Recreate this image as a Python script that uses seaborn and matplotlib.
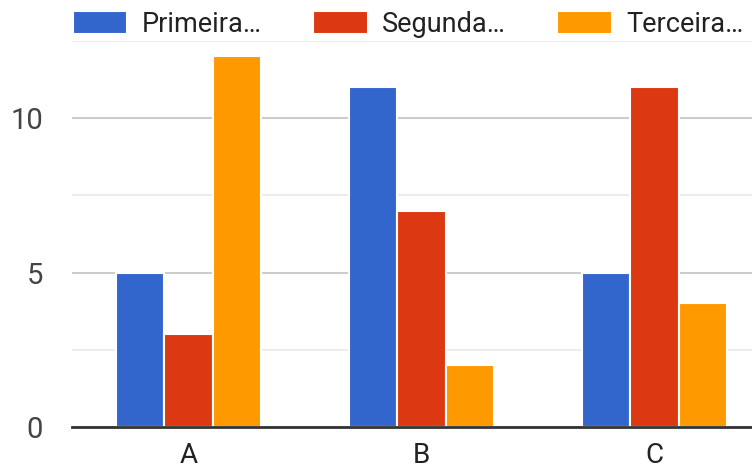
import matplotlib
matplotlib.use("Agg")
import matplotlib.pyplot as plt
from matplotlib.ticker import MultipleLocator
import pandas as pd
import seaborn as sns

categories = ["A", "B", "C"]
series_names = ["Primeira…", "Segunda…", "Terceira…"]
primeira = [5, 11, 5]
segunda = [3, 7, 11]
terceira = [12, 2, 4]
colors = ["#3366cc", "#dc3912", "#ff9900"]

rows = []
for name, vals in zip(series_names, [primeira, segunda, terceira]):
    for cat, v in zip(categories, vals):
        rows.append({"cat": cat, "serie": name, "valor": v})
df = pd.DataFrame(rows)

sns.set_theme(style="white")
plt.rcParams["font.family"] = ["Roboto", "DejaVu Sans"]

fig = plt.figure(figsize=(7.52, 4.70), dpi=100)
ax = fig.add_axes([72 / 752, 43 / 470, 699 / 752, 386 / 470])

sns.barplot(data=df, x="cat", y="valor", hue="serie", order=categories,
            hue_order=series_names, palette=colors, width=0.62, saturation=1,
            edgecolor="white", linewidth=1.5, ax=ax, legend=True)

ax.set_xlim(-0.5, 2.5)
ax.set_ylim(0, 12.5)
ax.yaxis.set_major_locator(MultipleLocator(5))
ax.yaxis.set_minor_locator(MultipleLocator(2.5))
ax.grid(axis="y", which="major", color="#cccccc", linewidth=1.5)
ax.grid(axis="y", which="minor", color="#ebebeb", linewidth=1.3)
ax.set_axisbelow(True)
for s in ["top", "right", "left"]:
    ax.spines[s].set_visible(False)
ax.spines["bottom"].set_color("#333333")
ax.spines["bottom"].set_linewidth(2)
ax.set_xlabel("")
ax.set_ylabel("")
ax.tick_params(axis="y", which="both", length=0, pad=21, labelsize=21, labelcolor="#444444")
ax.tick_params(axis="x", length=0, pad=11, labelsize=20, labelcolor="#222222")

ax.legend(loc="center left", bbox_to_anchor=(0.5 / 699, 1 + 17 / 386), ncol=3,
          frameon=False, fontsize=19.5, handlelength=2.03, handleheight=0.92,
          handletextpad=0.52, columnspacing=1.9, borderpad=0, borderaxespad=0,
          labelcolor="#222222")

fig.savefig("out.png", dpi=100)
